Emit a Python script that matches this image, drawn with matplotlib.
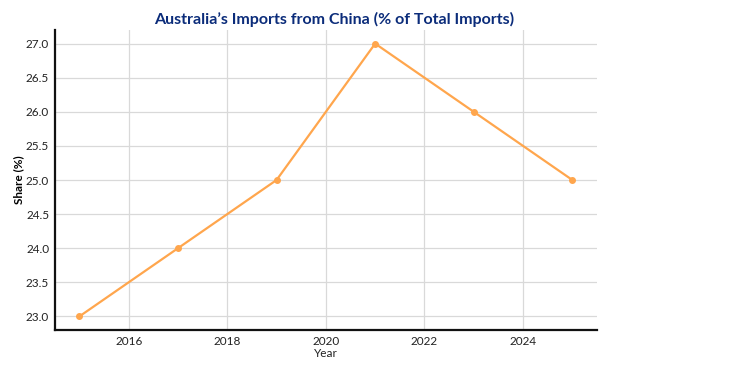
import matplotlib
matplotlib.use("Agg")
import matplotlib.pyplot as plt

years = [2015, 2017, 2019, 2021, 2023, 2025]
share = [23.0, 24.0, 25.0, 27.0, 26.0, 25.0]

plt.rcParams["font.family"] = ["Lato", "DejaVu Sans"]

fig = plt.figure(figsize=(7.5, 3.7), dpi=100)
ax = fig.add_axes([0.073, 0.108, 0.723, 0.811])

ax.plot(years, share, color="#FFA64D", linewidth=1.6, marker="o", markersize=4)

ax.set_yticks([23.0, 23.5, 24.0, 24.5, 25.0, 25.5, 26.0, 26.5, 27.0])
ax.set_yticklabels([f"{v:.1f}" for v in ax.get_yticks()])
ax.set_xticks([2016, 2018, 2020, 2022, 2024])
ax.tick_params(length=0, labelsize=8.5, colors="#222222", pad=4)

ax.grid(True, color="#d9d9d9", linewidth=0.9)
ax.set_axisbelow(True)
for s in ["top", "right"]:
    ax.spines[s].set_visible(False)
for s in ["left", "bottom"]:
    ax.spines[s].set_linewidth(1.6)
    ax.spines[s].set_color("#111111")

ax.set_xlabel("Year", fontsize=8.5, labelpad=1, color="#222222")
ax.set_ylabel("Share (%)", fontsize=8.5, fontweight="bold", labelpad=1)
fig.text(0.446, 0.947, "Australia\u2019s Imports from China (% of Total Imports)",
         ha="center", va="center", fontsize=11.5, fontweight="bold", color="#0B2C7A")

fig.savefig("out.png", dpi=100)
